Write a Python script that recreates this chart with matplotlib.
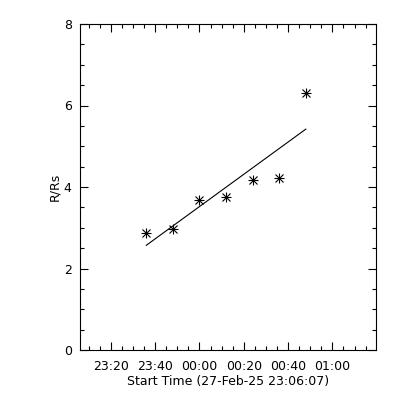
import numpy as np
import matplotlib
matplotlib.use('Agg')
import matplotlib.pyplot as plt
import matplotlib.dates as mdates
from matplotlib.ticker import MultipleLocator
from datetime import datetime

# height-time points
times = ['2025-02-27 23:36', '2025-02-27 23:48', '2025-02-28 00:00',
         '2025-02-28 00:12', '2025-02-28 00:24', '2025-02-28 00:36',
         '2025-02-28 00:48']
heights = [2.86, 2.97, 3.68, 3.76, 4.17, 4.22, 6.30]
start_time = '2025-02-27 23:06:07'
end_time = '2025-02-28 01:19:40'

t = [datetime.strptime(s, '%Y-%m-%d %H:%M') for s in times]
tn = mdates.date2num(t)
t0 = mdates.date2num(datetime.strptime(start_time, '%Y-%m-%d %H:%M:%S'))
t1 = mdates.date2num(datetime.strptime(end_time, '%Y-%m-%d %H:%M:%S'))

# linear fit
p = np.polyfit(tn, heights, 1)
fit = np.polyval(p, tn)

plt.rcParams['font.family'] = 'DejaVu Sans'
fig = plt.figure(figsize=(4, 4), dpi=100)
ax = fig.add_axes([0.2, 0.125, 0.74, 0.815])

ax.plot(tn, heights, linestyle='none', marker='+', ms=7, mew=0.8, color='k')
ax.plot(tn, heights, linestyle='none', marker='x', ms=5.5, mew=0.8, color='k')
ax.plot([tn[0], tn[-1]], [fit[0], fit[-1]], color='k', lw=0.8)

ax.set_xlim(t0, t1)
ax.set_ylim(0, 8)
ax.xaxis.set_major_locator(mdates.MinuteLocator(byminute=[0, 20, 40]))
ax.xaxis.set_minor_locator(mdates.MinuteLocator(byminute=range(0, 60, 5)))
ax.xaxis.set_major_formatter(mdates.DateFormatter('%H:%M'))
ax.yaxis.set_major_locator(MultipleLocator(2))
ax.yaxis.set_minor_locator(MultipleLocator(0.5))

ax.tick_params(which='both', direction='in', top=True, right=True,
               labelsize=9, width=0.8)
ax.tick_params(axis='x', which='both', pad=7)
ax.tick_params(axis='y', which='both', pad=6)
ax.tick_params(which='major', length=6)
ax.tick_params(which='minor', length=3)
for s in ax.spines.values():
    s.set_linewidth(0.8)

ax.set_xlabel('Start Time (27-Feb-25 23:06:07)', fontsize=9, labelpad=1.5)
ax.set_ylabel('R/Rs', fontsize=9, labelpad=2)

fig.savefig('out.png', dpi=100, facecolor='white')
